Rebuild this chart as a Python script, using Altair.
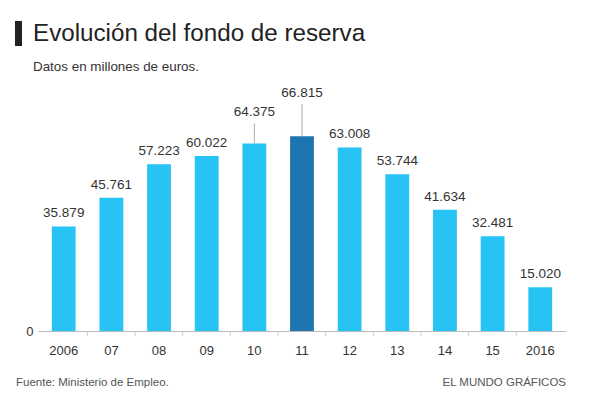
import altair as alt
import pandas as pd

# ---- data ----
years = ["2006", "07", "08", "09", "10", "11", "12", "13", "14", "15", "2016"]
values = [35879, 45761, 57223, 60022, 64375, 66815, 63008, 53744, 41634, 32481, 15020]
highlight_year = "11"

# extra lift (data units) for labels that carry a leader line
label_lift = {"10": 6200, "11": 10400}

title_text = "Evolución del fondo de reserva"
subtitle_text = "Datos en millones de euros."
source_text = "Fuente: Ministerio de Empleo."
credit_text = "EL MUNDO GRÁFICOS"

LIGHT = "#27C3F5"
DARK = "#1F74B2"
FONT = "Liberation Sans"

df = pd.DataFrame({"year": years, "value": values})
df["label"] = [f"{v:,}".replace(",", ".") for v in values]
df["lift"] = [label_lift.get(y, 0) for y in years]
df["label_y"] = df["value"] + df["lift"]

W, H = 528, 204

x_scale = alt.Scale(paddingInner=0.5, paddingOuter=0.29)
y_scale = alt.Scale(domain=[0, 70000], nice=False)

x_axis = alt.Axis(title=None, ticks=False, domain=True, domainColor="#bbbbbb",
                  labelFontSize=13, labelColor="#333333", labelPadding=13,
                  labelAngle=0, labelFont=FONT)
y_axis = alt.Axis(title=None, values=[0], ticks=False, domain=False, grid=False,
                  labelFontSize=13, labelColor="#333333", labelPadding=5, labelFont=FONT)

base = alt.Chart(df)

bars = base.mark_bar().encode(
    x=alt.X("year:N", sort=years, scale=x_scale, axis=x_axis),
    y=alt.Y("value:Q", scale=y_scale, axis=y_axis),
    color=alt.condition(alt.datum.year == highlight_year, alt.value(DARK), alt.value(LIGHT)),
)

ticks = base.transform_filter(alt.datum.year != years[0]).mark_rule(
    color="#cccccc", xOffset=-24
).encode(
    x=alt.X("year:N", sort=years, scale=x_scale, axis=x_axis),
    y=alt.value(H),
    y2=alt.value(H + 5),
)

leaders = base.transform_filter(alt.datum.lift > 0).mark_rule(
    color="#aaaaaa", y2Offset=-2
).encode(
    x=alt.X("year:N", sort=years, scale=x_scale, axis=x_axis),
    y=alt.Y("value:Q", scale=y_scale, axis=y_axis),
    y2="label_y:Q",
)

labels = base.mark_text(
    dy=-9, baseline="alphabetic", fontSize=13.5, color="#333333", font=FONT
).encode(
    x=alt.X("year:N", sort=years, scale=x_scale, axis=x_axis),
    y=alt.Y("label_y:Q", scale=y_scale, axis=y_axis),
    text="label:N",
)

one = alt.Data(values=[{}])

title_bar = alt.Chart(one).mark_rect(color="#222222").encode(
    x=alt.value(-23), x2=alt.value(-16), y=alt.value(-106), y2=alt.value(-81)
)
title = alt.Chart(one).mark_text(
    text=title_text, align="left", baseline="alphabetic", fontSize=24.2,
    color="#222222", font=FONT
).encode(x=alt.value(-5), y=alt.value(-86))
subtitle = alt.Chart(one).mark_text(
    text=subtitle_text, align="left", baseline="alphabetic", fontSize=13.4,
    color="#333333", font=FONT
).encode(x=alt.value(-5), y=alt.value(-56))
source = alt.Chart(one).mark_text(
    text=source_text, align="left", baseline="alphabetic", fontSize=11.5,
    color="#555555", font=FONT
).encode(x=alt.value(-22), y=alt.value(259))
credit = alt.Chart(one).mark_text(
    text=credit_text, align="right", baseline="alphabetic", fontSize=11.5,
    color="#555555", font=FONT
).encode(x=alt.value(W), y=alt.value(259))

chart = alt.layer(
    bars, ticks, leaders, labels, title_bar, title, subtitle, source, credit
).properties(
    width=W, height=H,
    autosize=alt.AutoSizeParams(type="none"),
    padding={"left": 30, "top": 119, "right": 19, "bottom": 60},
).configure(font=FONT).configure_view(stroke=None)

chart.save("out.html", embed_options={"renderer": "svg", "actions": False})
